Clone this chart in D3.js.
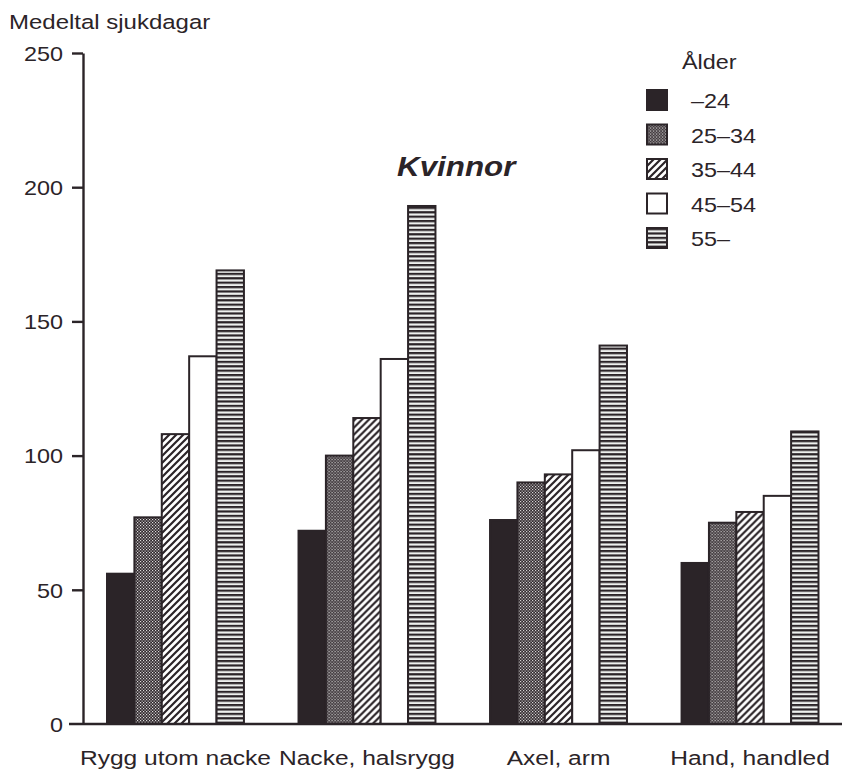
<!DOCTYPE html>
<html>
<head>
<meta charset="utf-8">
<script src="https://cdn.jsdelivr.net/npm/d3@7"></script>
<style>
  html, body { margin: 0; padding: 0; background: #ffffff; }
  svg { display: block; }
  text { font-family: "Liberation Sans", Arial, Helvetica, sans-serif; fill: #2b2428; }
</style>
</head>
<body>
<svg id="chart" width="842" height="774"></svg>
<script>
// ---- data ----
const categories = ["Rygg utom nacke", "Nacke, halsrygg", "Axel, arm", "Hand, handled"];
const ageGroups = ["\u201324", "25\u201334", "35\u201344", "45\u201354", "55\u2013"];
const age_upto24 = [56, 72, 76, 60];
const age_25_34  = [77, 100, 90, 75];
const age_35_44  = [108, 114, 93, 79];
const age_45_54  = [137, 136, 102, 85];
const age_55plus = [169, 193, 141, 109];
const yTicks = [0, 50, 100, 150, 200, 250];
const yTitle = "Medeltal sjukdagar";
const chartTitle = "Kvinnor";
const legendTitle = "\u00C5lder";

const seriesValues = [age_upto24, age_25_34, age_35_44, age_45_54, age_55plus];

// ---- setup ----
const INK = "#2b2428";
const SX = 1.17; // horizontal stretch of the scanned lettering
const svg = d3.select("#chart");
svg.append("rect").attr("width", 842).attr("height", 774).attr("fill", "#ffffff");

const defs = svg.append("defs");
// checker (dark with small light dots)
const pc = defs.append("pattern").attr("id", "p1").attr("patternUnits", "userSpaceOnUse")
  .attr("width", 3).attr("height", 3);
pc.append("rect").attr("width", 3).attr("height", 3).attr("fill", "#2f272b");
pc.append("rect").attr("x", 0).attr("y", 0).attr("width", 1.2).attr("height", 1.2).attr("fill", "#dcdcdc");
pc.append("rect").attr("x", 1.5).attr("y", 1.5).attr("width", 1.2).attr("height", 1.2).attr("fill", "#dcdcdc");
// diagonal hatch
const ph = defs.append("pattern").attr("id", "p2").attr("patternUnits", "userSpaceOnUse")
  .attr("width", 7).attr("height", 7);
ph.append("rect").attr("width", 7).attr("height", 7).attr("fill", "#ffffff");
ph.append("path").attr("d", "M-2,2 L2,-2 M0,7 L7,0 M5,9 L9,5")
  .attr("stroke", INK).attr("stroke-width", 2.2);
// horizontal stripes
const ps = defs.append("pattern").attr("id", "p4").attr("patternUnits", "userSpaceOnUse")
  .attr("width", 6).attr("height", 4.4);
ps.append("rect").attr("width", 6).attr("height", 4.4).attr("fill", "#eef0ee");
ps.append("rect").attr("width", 6).attr("height", 2.2).attr("fill", INK);

const fills = [INK, "url(#p1)", "url(#p2)", "#ffffff", "url(#p4)"];

// ---- scales ----
const y = d3.scaleLinear().domain([0, 250]).range([724, 53]);
const x0 = d3.scaleBand().domain(categories).range([107, 818.5]).paddingInner(0.285).paddingOuter(0);
const x1 = d3.scaleBand().domain(ageGroups).range([0, x0.bandwidth()]);

// ---- bars ----
const groups = svg.append("g").selectAll("g").data(categories).join("g")
  .attr("transform", d => `translate(${x0(d)},0)`);
groups.selectAll("rect")
  .data((c, ci) => ageGroups.map((a, ai) => ({ a, ai, v: seriesValues[ai][ci] })))
  .join("rect")
  .attr("x", d => x1(d.a))
  .attr("y", d => y(d.v))
  .attr("width", x1.bandwidth())
  .attr("height", d => y(0) - y(d.v))
  .attr("fill", d => fills[d.ai])
  .attr("stroke", INK)
  .attr("stroke-width", 2);

// ---- axes ----
const axisX = 83;
const yAxis = d3.axisLeft(y).tickValues(yTicks).tickSize(11).tickSizeOuter(0).tickFormat(d3.format("d"));
const ga = svg.append("g").attr("transform", `translate(${axisX},0)`).call(yAxis);
ga.select(".domain").attr("stroke", INK).attr("stroke-width", 2.4);
ga.selectAll(".tick line").attr("stroke", INK).attr("stroke-width", 2.4);
ga.selectAll(".tick text")
  .attr("x", null).attr("dy", "0.36em")
  .attr("transform", `translate(-20,0) scale(${SX},1)`)
  .style("font-size", "20px").style("font-family", "'Liberation Sans', Arial, sans-serif")
  .attr("fill", INK);
ga.selectAll(".tick").filter(d => d === 0).select("line").remove();

// baseline
svg.append("line").attr("x1", 69).attr("x2", 842).attr("y1", y(0)).attr("y2", y(0))
  .attr("stroke", INK).attr("stroke-width", 2.6);

// category labels
svg.append("g").selectAll("text").data(categories).join("text")
  .attr("text-anchor", "middle")
  .attr("transform", d => `translate(${x0(d) + x0.bandwidth() / 2},765) scale(${SX},1)`)
  .style("font-size", "21px")
  .text(d => d);

// y title
svg.append("text").attr("transform", `translate(9,29) scale(${SX},1)`)
  .style("font-size", "20.5px").text(yTitle);

// chart title
svg.append("text").attr("transform", `translate(397,176) scale(1.12,1)`)
  .style("font-size", "28px").style("font-weight", "bold").style("font-style", "italic")
  .text(chartTitle);

// ---- legend ----
const lg = svg.append("g");
lg.append("text").attr("transform", `translate(682,69) scale(${SX},1)`)
  .style("font-size", "20px").text(legendTitle);
const rows = lg.selectAll("g.row").data(ageGroups).join("g").attr("class", "row")
  .attr("transform", (d, i) => `translate(647,${90 + i * 34.5})`);
rows.append("rect").attr("width", 20).attr("height", 20)
  .attr("fill", (d, i) => fills[i]).attr("stroke", INK).attr("stroke-width", 2);
rows.append("text").attr("transform", `translate(44,18) scale(${SX},1)`)
  .style("font-size", "20px").text(d => d);
</script>
</body>
</html>
